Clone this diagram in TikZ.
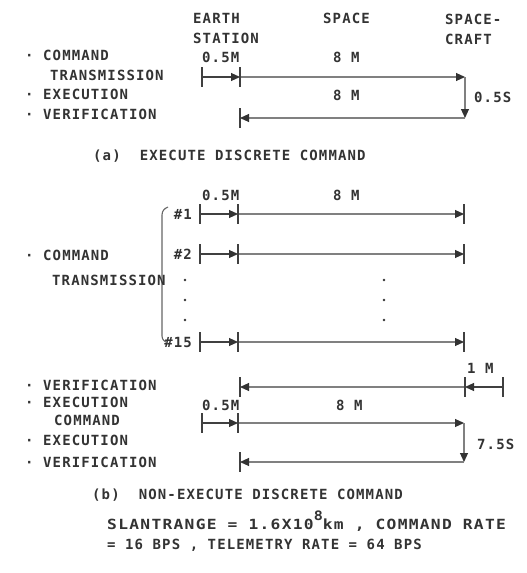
\documentclass[tikz,border=0pt]{standalone}
\usepackage{fontspec}
\newfontfamily\plotfont[LetterSpace=8]{DejaVu Sans Mono Bold}
\usetikzlibrary{arrows.meta}
\begin{document}
\begin{tikzpicture}[x=1pt,y=-1pt,
  txt/.style={anchor=base west, inner sep=0pt, font=\plotfont\fontsize{14}{17}\selectfont, text=black!80},
  txtr/.style={txt, anchor=base east},
  ln/.style={draw=black!50, line width=1.1pt},
  dk/.style={draw=black!75, line width=1.1pt},
  head/.style={-{Triangle[length=9pt,width=8pt,color=black!80,fill=black!80]}},
  tickmark/.pic={\draw[dk] (0,-10) -- (0,10);},
  dotmark/.pic={\fill[black!80] (0,0) circle (1.3pt);}
  ]
\fill[white] (0,0) rectangle (527,573);
\useasboundingbox (0,0) rectangle (527,573);

% ---------- (a) ----------
\node[txt] (earth) at (193,23) {EARTH};
\node[txt] (station) at (193,43) {STATION};
\node[txt] (space) at (323,23) {SPACE};
\node[txt] (spacea) at (445,24) {SPACE-};
\node[txt] (craft) at (445,44) {CRAFT};

\node[txt] (cmdA) at (25,60) {· COMMAND};
\node[txt] (trA) at (50,80) {TRANSMISSION};
\node[txt] (exA) at (25,99) {· EXECUTION};
\node[txt] (veA) at (25,119) {· VERIFICATION};

\node[txt] (hmA) at (202,62) {0.5M};
\node[txt] (emA) at (333,62) {8 M};
\node[txt] (emA2) at (333,100) {8 M};
\node[txt] (hsA) at (474,102) {0.5S};

\coordinate (a1) at (202,77);
\coordinate (a2) at (240,77);
\coordinate (a3) at (465,77);
\coordinate (a4) at (465,118);
\coordinate (a5) at (240,118);
\draw[dk,head] (a1) -- (a2);
\draw[ln,head] (a2) -- (a3);
\draw[ln,head] (a3) -- (a4);
\draw[ln,head] (a4) -- (a5);
\pic at (a1) {tickmark};
\pic at (a2) {tickmark};
\pic at (a5) {tickmark};

\node[txt] (capA) at (93,160) {(a)\ \ EXECUTE DISCRETE COMMAND};

% ---------- (b) ----------
\node[txt] (hmB) at (202,200) {0.5M};
\node[txt] (emB) at (333,200) {8 M};

\node[txtr] (n1) at (192,219) {\#1};
\node[txtr] (n2) at (192,259) {\#2};
\node[txtr] (n15) at (192,347) {\#15};

\foreach \r/\y in {1/214,2/254,3/342}{
  \coordinate (r\r a) at (200,\y);
  \coordinate (r\r b) at (238,\y);
  \coordinate (r\r c) at (464,\y);
  \draw[dk,head] (r\r a) -- (r\r b);
  \draw[ln,head] (r\r b) -- (r\r c);
  \pic at (r\r a) {tickmark};
  \pic at (r\r b) {tickmark};
  \pic at (r\r c) {tickmark};
}

\foreach \y in {280,300,320}{
  \pic at (185,\y) {dotmark};
  \pic at (384,\y) {dotmark};
}

\coordinate (brt) at (168,207);
\coordinate (brtl) at (162,215);
\coordinate (brbl) at (162,336);
\coordinate (brb) at (168,343);
\draw[draw=black!60, line width=1.1pt] (brt) to[out=200,in=90] (brtl) -- (brbl) to[out=-90,in=160] (brb);

\node[txt] (cmdB) at (25,260) {· COMMAND};
\node[txt] (trB) at (52,285) {TRANSMISSION};

\node[txt] (oneM) at (467,373) {1 M};
\node[txt] (veB) at (25,390) {· VERIFICATION};
\coordinate (v0) at (240,387);
\coordinate (v1) at (465,387);
\coordinate (v2) at (503,387);
\draw[dk,head] (v2) -- (v1);
\draw[ln,head] (v1) -- (v0);
\pic at (v0) {tickmark};
\pic at (v1) {tickmark};
\pic at (v2) {tickmark};

\node[txt] (exB) at (25,407) {· EXECUTION};
\node[txt] (cmdB2) at (54,425) {COMMAND};
\node[txt] (hmC) at (202,410) {0.5M};
\node[txt] (emC) at (336,410) {8 M};

\coordinate (c1) at (202,423);
\coordinate (c2) at (238,423);
\coordinate (c3) at (464,423);
\coordinate (c4) at (464,462);
\coordinate (c5) at (240,462);
\draw[dk,head] (c1) -- (c2);
\draw[ln,head] (c2) -- (c3);
\draw[ln,head] (c3) -- (c4);
\draw[ln,head] (c4) -- (c5);
\pic at (c1) {tickmark};
\pic at (c2) {tickmark};
\pic at (c5) {tickmark};
\node[txt] (hsC) at (477,449) {7.5S};

\node[txt] (exB2) at (25,445) {· EXECUTION};
\node[txt] (veB2) at (25,467) {· VERIFICATION};

\node[txt] (capB) at (92,499) {(b)\ \ NON-EXECUTE DISCRETE COMMAND};

\node[txt] (slant) at (107,529) {\scalebox{1.16}[1]{SLANTRANGE = 1.6X10\raisebox{9pt}{\fontsize{13}{13}\selectfont 8}km , COMMAND RATE}};
\node[txt] (rates) at (107,549) {= 16 BPS , TELEMETRY RATE = 64 BPS};
\end{tikzpicture}
\end{document}
